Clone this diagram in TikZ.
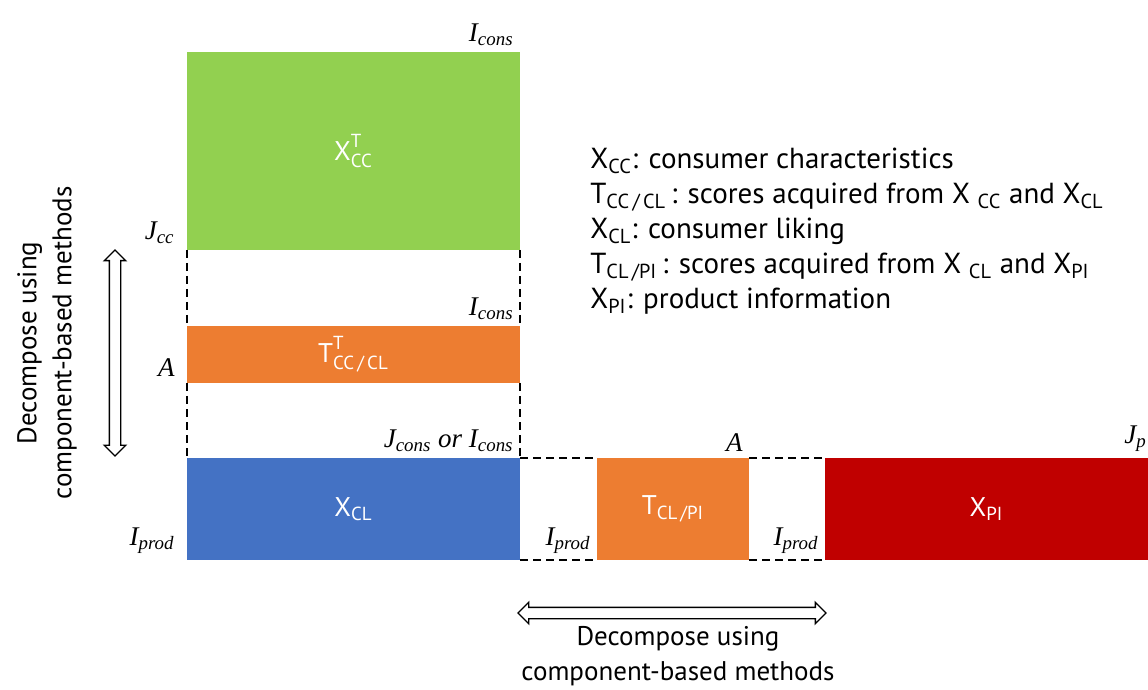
\documentclass[tikz,border=0pt]{standalone}
\usepackage{amsmath}
\usepackage{fontspec}
\setmainfont{PT Sans}
\newfontfamily\tms{Liberation Serif}
\usetikzlibrary{positioning,shapes.arrows}

\definecolor{ccgreen}{HTML}{92D050}
\definecolor{scorange}{HTML}{ED7D31}
\definecolor{clblue}{HTML}{4472C4}
\definecolor{pired}{HTML}{C00000}
\newcommand\dimlab[2]{#1\textsubscript{#2}}

\begin{document}
\begin{tikzpicture}[x=0.5pt,y=-0.5pt,font=\fontsize{13.5}{17.5}\selectfont,
    block/.style={inner sep=0pt,outer sep=0pt,text=white},
    gap/.style={dash pattern=on 4pt off 2.5pt,line width=0.7pt},
    dimlabel/.style={inner sep=3pt,font=\fontsize{13.5}{15}\selectfont\tms\itshape},
    decomp/.style={double arrow,draw,line width=0.7pt,inner sep=2.5pt,
        double arrow head extend=2.5pt}]
    \useasboundingbox (0,0) rectangle (1148,690);
    % blocks
    \node[block, fill=ccgreen, minimum width=166.5pt, minimum height=99pt,
        anchor=north west] (xcc) at (187,52) {$\text{X}^{\text{T}}_{\text{CC}}$};
    \node[block, fill=scorange, minimum width=166.5pt, minimum height=28.5pt,
        below=38pt of xcc] (tcc) {$\text{T}^{\text{T}}_{\text{CC\,/\,CL}}$};
    \node[block, fill=clblue, minimum width=166.5pt, minimum height=51pt,
        below=37.5pt of tcc] (xcl) {X\textsubscript{CL}};
    \node[block, fill=scorange, minimum width=76pt, minimum height=51pt,
        right=38.5pt of xcl] (tcl) {T\textsubscript{CL\,/PI}};
    \node[block, fill=pired, minimum width=161.5pt, minimum height=51pt,
        right=38pt of tcl] (xpi) {X\textsubscript{PI}};
    % dashed gaps
    \draw[gap] (xcc.south west) -- (tcc.north west) (tcc.south west) -- (xcl.north west);
    \draw[gap] (xcc.south east) -- (tcc.north east) (tcc.south east) -- (xcl.north east);
    \draw[gap] (xcl.north east) -- (tcl.north west) (xcl.south east) -- (tcl.south west);
    \draw[gap] (tcl.north east) -- (xpi.north west) (tcl.south east) -- (xpi.south west);
    % dimensions
    \node[dimlabel, anchor=south east] (icons1) at (xcc.north east) {\dimlab{I}{cons}};
    \node[dimlabel, anchor=south east, xshift=-3pt] (jcc) at (xcc.south west) {\dimlab{J}{cc}};
    \node[dimlabel, anchor=south east] (icons2) at (tcc.north east) {\dimlab{I}{cons}};
    \node[dimlabel, anchor=south east, xshift=-3pt] (a1) at (tcc.south west) {A};
    \node[dimlabel, anchor=south east] (jcons) at (xcl.north east) {\dimlab{J}{cons} or \dimlab{I}{cons}};
    \node[dimlabel, anchor=south east, xshift=-3pt] (iprod1) at (xcl.south west) {\dimlab{I}{prod}};
    \node[dimlabel, anchor=south east] (iprod2) at (tcl.south west) {\dimlab{I}{prod}};
    \node[dimlabel, anchor=south east] (a2) at (tcl.north east) {A};
    \node[dimlabel, anchor=south east] (iprod3) at (xpi.south west) {\dimlab{I}{prod}};
    \node[dimlabel, anchor=south west, xshift=-15pt] (jp) at (xpi.north east) {\dimlab{J}{p}};
    % decomposition arrows
    \node[decomp, rotate=90, minimum height=103pt] (vdec) at (115,353) {};
    \node[rotate=90, align=center] (vtext) at (47,343) {Decompose using\\component-based methods};
    \node[decomp, minimum height=154pt] (hdec) at (672,613) {};
    \node[align=center] (htext) at (678,656) {Decompose using\\component-based methods};
    % legend
    \node[anchor=north west, align=left, inner sep=0pt,
        font=\fontsize{14.5}{17.5}\selectfont] (legend) at (590,148) {%
        X\textsubscript{CC}: consumer characteristics\\
        T\textsubscript{CC\,/\,CL}\,: scores acquired from X\ \textsubscript{CC} and X\textsubscript{CL}\\
        X\textsubscript{CL}: consumer liking\\
        T\textsubscript{CL\,/PI}\,: scores acquired from X\ \textsubscript{CL} and X\textsubscript{PI}\\
        X\textsubscript{PI}: product information};
\end{tikzpicture}
\end{document}
